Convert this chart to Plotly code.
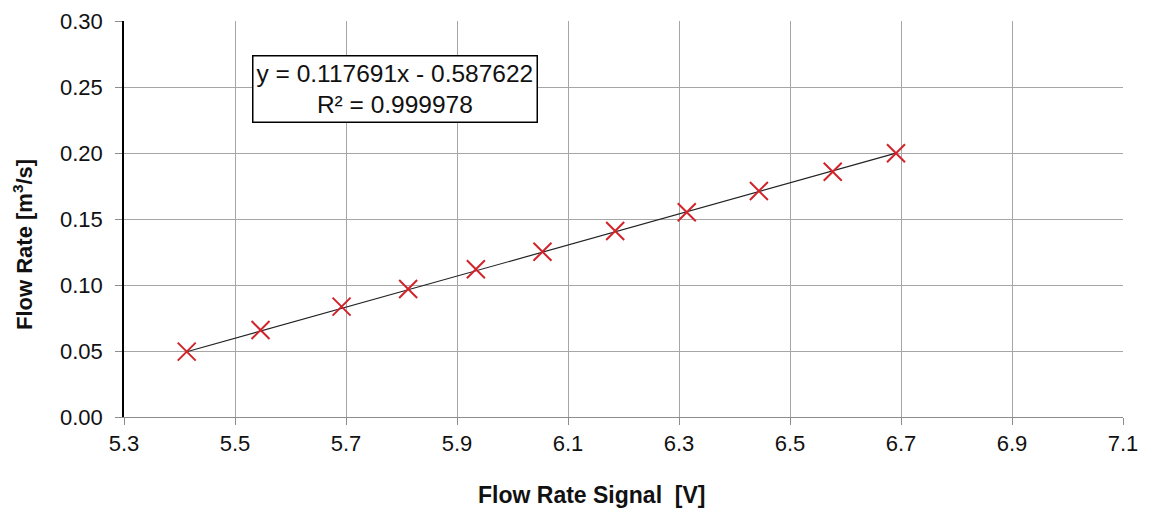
import plotly.graph_objects as go

signal_v = [5.413, 5.546, 5.692, 5.812, 5.934, 6.054, 6.185, 6.314, 6.444, 6.577, 6.691]
flow_rate = [0.0495, 0.0659, 0.0836, 0.0970, 0.1119, 0.1252, 0.1409, 0.1551, 0.1712, 0.1858, 0.1998]
slope = 0.117691
intercept = -0.587622
r_squared = 0.999978
x_ticks = [5.3, 5.5, 5.7, 5.9, 6.1, 6.3, 6.5, 6.7, 6.9, 7.1]
y_ticks = [0.00, 0.05, 0.10, 0.15, 0.20, 0.25, 0.30]

fit_x = [min(signal_v), max(signal_v)]
fit_y = [slope * v + intercept for v in fit_x]

# page has an 8px body margin; plot area target: x 124..1123, y 21..417
W, H = 1141, 508
L, R, T, B = 116, 26, 13, 99
pw = W - L - R
ph = H - T - B

fig = go.Figure()
fig.add_trace(go.Scatter(x=fit_x, y=fit_y, mode="lines",
                         line=dict(color="#222222", width=1.2), showlegend=False))
fig.add_trace(go.Scatter(x=signal_v, y=flow_rate, mode="markers",
                         marker=dict(symbol="x-thin", size=18,
                                     line=dict(color="#d0242a", width=2)),
                         showlegend=False))

font = "Arial, Liberation Sans, sans-serif"
fig.update_layout(
    width=W, height=H,
    margin=dict(l=L, r=R, t=T, b=B, autoexpand=False),
    paper_bgcolor="white", plot_bgcolor="white",
    font=dict(family=font, size=22, color="#111111"),
    xaxis=dict(range=[5.3, 7.1], tickvals=x_ticks,
               ticktext=[f"{v:.1f}" for v in x_ticks],
               showgrid=True, gridcolor="#a6a6a6", gridwidth=1,
               showline=True, linecolor="#8c8c8c", linewidth=1,
               ticks="outside", ticklen=7, tickcolor="#8c8c8c",
               zeroline=False, fixedrange=True, automargin=False),
    yaxis=dict(range=[0, 0.30], tickvals=y_ticks,
               ticktext=[f"{v:.2f}" for v in y_ticks],
               showgrid=True, gridcolor="#a6a6a6", gridwidth=1,
               showline=True, linecolor="#000000", linewidth=1.5,
               ticks="outside", ticklen=7, tickcolor="#8c8c8c",
               ticklabelstandoff=8,
               zeroline=False, fixedrange=True, automargin=False),
)
# x axis title
fig.add_annotation(x=(591 - 124) / pw, y=-(495 - 417) / ph,
                   xref="paper", yref="paper",
                   text="<b>Flow Rate Signal  [V]</b>", showarrow=False,
                   xanchor="center", yanchor="middle",
                   font=dict(size=23))
# y axis title
fig.add_annotation(x=(23 - 124) / pw, y=(417 - 245) / ph,
                   xref="paper", yref="paper",
                   text="<b>Flow Rate [m<sup>3</sup>/s]</b>", showarrow=False,
                   textangle=-90, xanchor="center", yanchor="middle",
                   font=dict(size=22))
# trendline equation box
fig.add_annotation(x=5.788, y=0.2485, xref="x", yref="y",
                   text=f"y = {slope:.6f}x - {abs(intercept):.6f}<br>R² = {r_squared:.6f}",
                   showarrow=False, align="center",
                   font=dict(size=24.5, color="#111111"),
                   bgcolor="white", bordercolor="#000000", borderwidth=1.5,
                   borderpad=3)

fig.write_html("out.html")
